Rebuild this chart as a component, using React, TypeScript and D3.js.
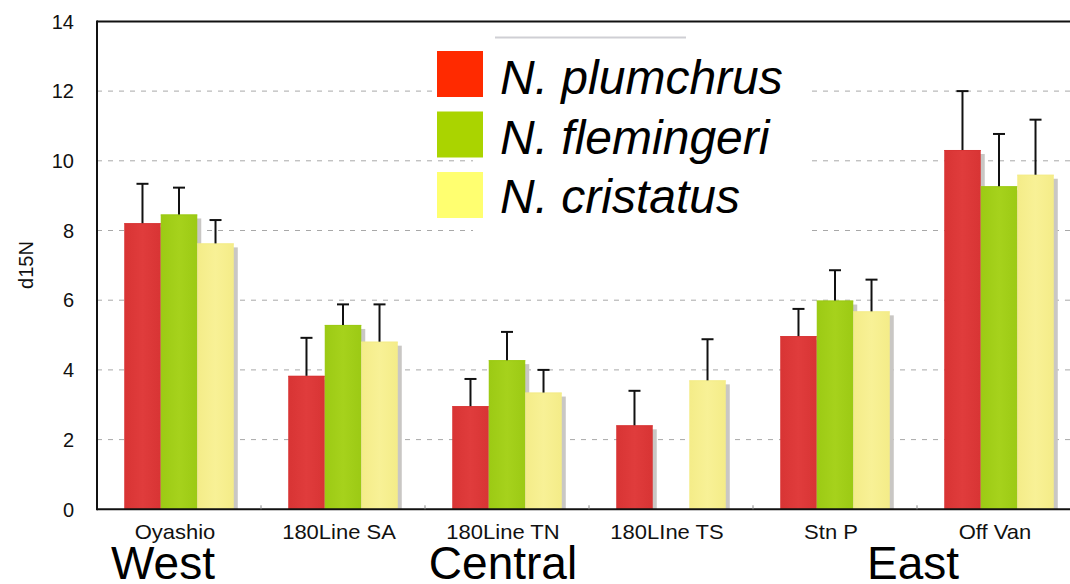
import React from "react";
import * as d3 from "d3";

const categories = ["Oyashio", "180Line SA", "180Line TN", "180LIne TS", "Stn P", "Off Van"];
const seriesNames = ["N. plumchrus", "N. flemingeri", "N. cristatus"];
const plumchrusMean: (number | null)[] = [8.21, 3.83, 2.96, 2.41, 4.97, 10.31];
const plumchrusSD: (number | null)[] = [1.13, 1.09, 0.78, 0.99, 0.78, 1.69];
const flemingeriMean: (number | null)[] = [8.46, 5.29, 4.28, null, 5.99, 9.27];
const flemingeriSD: (number | null)[] = [0.77, 0.59, 0.81, null, 0.87, 1.5];
const cristatusMean: (number | null)[] = [7.63, 4.81, 3.35, 3.7, 5.68, 9.6];
const cristatusSD: (number | null)[] = [0.67, 1.07, 0.65, 1.18, 0.91, 1.58];
const yTicks = [0, 2, 4, 6, 8, 10, 12, 14];
const regions = ["West", "Central", "East"];
const yTitle = "d15N";

const W = 1070;
const H = 584;
const FONT = "'Liberation Sans', Arial, Helvetica, sans-serif";

const barColors = ["#e03c3c", "#a6d21c", "#f8f196"];
const barEdge = ["#d83434", "#9cca14", "#f4ec88"];
const legendColors = ["#ff2a00", "#aad400", "#ffff70"];

export default function App() {
  const left = 97;
  const step = 164;
  const x = d3
    .scaleBand<string>()
    .domain(categories)
    .range([left, left + step * categories.length])
    .paddingInner(0.332)
    .paddingOuter(0.166);
  const x1 = d3.scaleBand<string>().domain(seriesNames).range([0, x.bandwidth()]).padding(0);
  const y = d3.scaleLinear().domain([0, 14]).range([509.3, 21.4]);

  const means = [plumchrusMean, flemingeriMean, cristatusMean];
  const sds = [plumchrusSD, flemingeriSD, cristatusSD];

  type Bar = { cat: string; s: number; v: number; sd: number };
  const bars: Bar[] = [];
  categories.forEach((c, i) => {
    seriesNames.forEach((_, s) => {
      const v = means[s][i];
      if (v != null) bars.push({ cat: c, s, v, sd: sds[s][i] ?? 0 });
    });
  });

  const bw = x1.bandwidth();
  const bx = (b: Bar) => (x(b.cat) ?? 0) + (x1(seriesNames[b.s]) ?? 0);
  const center = (c: string) => (x(c) ?? 0) + x.bandwidth() / 2;
  const y0 = y(0);

  const regionX = [
    center(categories[0]) - 16,
    center(categories[2]) - 4,
    ((x(categories[4]) ?? 0) + x.bandwidth() + (x(categories[5]) ?? 0)) / 2 - 4,
  ];

  return (
    <svg
      width={W}
      height={H}
      style={{ position: "absolute", left: 0, top: 0, background: "#fff" }}
      fontFamily={FONT}
    >
      <defs>
        {barColors.map((c, i) => (
          <linearGradient key={i} id={`g${i}`} x1="0" x2="1" y1="0" y2="0">
            <stop offset="0" stopColor={barEdge[i]} />
            <stop offset="0.5" stopColor={c} />
            <stop offset="1" stopColor={barEdge[i]} />
          </linearGradient>
        ))}
      </defs>
      <rect x={0} y={0} width={W} height={H} fill="#fff" />

      {yTicks
        .filter((t) => t > 0 && t < 14)
        .map((t) => (
          <line
            key={t}
            x1={left}
            x2={W}
            y1={y(t)}
            y2={y(t)}
            stroke="#a8a8a8"
            strokeWidth={1}
            strokeDasharray="5,6"
          />
        ))}

      <rect x={473} y={30} width={334} height={210} fill="#fff" />
      <line x1={495} x2={686} y1={37.5} y2={37.5} stroke="#cfcfd4" strokeWidth={2} />

      {bars.map((b, i) => (
        <rect
          key={`sh${i}`}
          x={bx(b) + 4}
          y={y(b.v) + 4}
          width={bw}
          height={y0 - y(b.v) - 4}
          fill="#c9c7c4"
        />
      ))}
      {bars.map((b, i) => (
        <rect key={`b${i}`} x={bx(b)} y={y(b.v)} width={bw} height={y0 - y(b.v)} fill={`url(#g${b.s})`} />
      ))}
      {bars.map((b, i) => (
        <line
          key={`bt${i}`}
          x1={bx(b)}
          x2={bx(b) + bw}
          y1={y(b.v) + 0.5}
          y2={y(b.v) + 0.5}
          stroke={barEdge[b.s]}
          strokeWidth={1}
          opacity={0.8}
        />
      ))}
      {bars.map((b, i) => {
        const cx = bx(b) + bw / 2;
        const top = y(b.v + b.sd);
        return (
          <g key={`e${i}`} stroke="#111" strokeWidth={2}>
            <line x1={cx} x2={cx} y1={y(b.v)} y2={top} />
            <line x1={cx - 6} x2={cx + 6} y1={top} y2={top} />
          </g>
        );
      })}

      <line x1={left} x2={W} y1={y(14)} y2={y(14)} stroke="#111" strokeWidth={2} />
      <line x1={left} x2={left} y1={y(14) - 1} y2={y0 + 1} stroke="#111" strokeWidth={2} />
      <line x1={left} x2={W} y1={y0} y2={y0} stroke="#111" strokeWidth={2} />
      {categories.slice(1).map((c) => {
        const bxv = (x(c) ?? 0) - (x.step() - x.bandwidth()) / 2;
        return <line key={c} x1={bxv} x2={bxv} y1={y0} y2={y0 - 4} stroke="#888" strokeWidth={1} />;
      })}

      {yTicks.map((t) => (
        <text key={t} x={74} y={y(t)} dy="0.36em" textAnchor="end" fontSize={20} fill="#111">
          {t}
        </text>
      ))}
      <text transform={`translate(33,265) rotate(-90)`} textAnchor="middle" fontSize={20} fill="#111">
        {yTitle}
      </text>

      {categories.map((c) => (
        <text
          key={c}
          transform={`translate(${center(c) - 4},539) scale(1.1,1)`}
          textAnchor="middle"
          fontSize={20}
          fill="#111"
        >
          {c}
        </text>
      ))}

      {regions.map((r, i) => (
        <text key={r} x={regionX[i]} y={579} textAnchor="middle" fontSize={46} fill="#000">
          {r}
        </text>
      ))}

      {seriesNames.map((s, i) => (
        <g key={s}>
          <rect x={437} y={51 + i * 60.5} width={46} height={46} fill={legendColors[i]} />
          <text x={500} y={94 + i * 59.5} fontSize={48} fontStyle="italic" fill="#000">
            {s}
          </text>
        </g>
      ))}
    </svg>
  );
}
